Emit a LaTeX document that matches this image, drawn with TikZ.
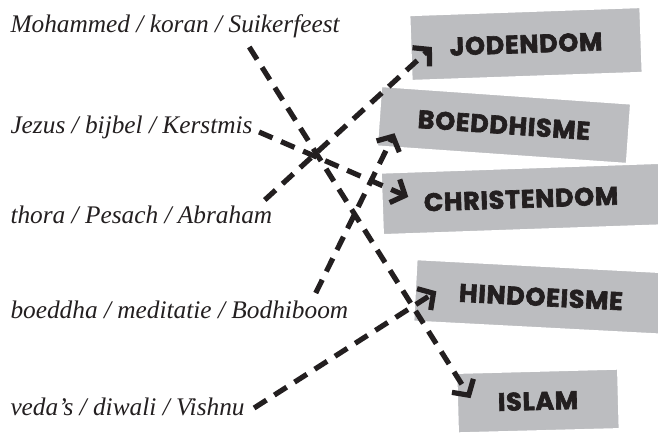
\documentclass[tikz,border=0pt]{standalone}
\usepackage{fontspec}
\setmainfont{Liberation Serif}
\newfontfamily\boxfont{Poppins}[LetterSpace=3.0,BoldFeatures={FakeBold=2.5}]
\usetikzlibrary{arrows.meta}

\definecolor{boxgray}{RGB}{188,189,192}
\definecolor{inkblack}{RGB}{35,31,32}

\tikzset{every picture/.style={line width=0.75pt}}
\tikzset{
  term/.style={anchor=base west,inner sep=0pt,font=\fontsize{19}{22}\selectfont\itshape,text=inkblack},
  relbox/.style={fill=boxgray,draw=white,line width=1.2pt,inner sep=0pt,font=\boxfont\bfseries\fontsize{19}{22}\selectfont,text=inkblack},
  link/.style={draw=inkblack,line width=3.9pt,dash pattern=on 11pt off 7pt,-{Straight Barb[length=8.5pt,width=19pt]}}
}

\begin{document}
\begin{tikzpicture}[x=0.75pt,y=0.75pt,yscale=-1,xscale=1]
\path[use as bounding box] (0,0) rectangle (658,433);

%Shape: Boxes
\node[relbox,rotate=2,minimum width=173pt,minimum height=49pt] (jod) at (526,44) {JODENDOM};
\node[relbox,rotate=-4,minimum width=187.5pt,minimum height=45pt] (boe) at (504,125) {BOEDDHISME};
\node[relbox,rotate=2,minimum width=208.5pt,minimum height=46.5pt] (chr) at (521,199) {CHRISTENDOM};
\node[relbox,rotate=-3,minimum width=189pt,minimum height=46.5pt] (hin) at (541,297) {HINDOEISME};
\node[relbox,rotate=1.5,minimum width=121pt,minimum height=45pt] (isl) at (538,401) {ISLAM};

% Text Node
\node[term] (moh) at (10,32) {Mohammed / koran / Suikerfeest};
% Text Node
\node[term] (jez) at (10,133) {Jezus / bijbel / Kerstmis};
% Text Node
\node[term] (tho) at (10,223) {thora / Pesach / Abraham};
% Text Node
\node[term] (bod) at (10,318) {boeddha / meditatie / Bodhiboom};
% Text Node
\node[term] (ved) at (10,415) {veda's / diwali / Vishnu};

%Straight Lines
\draw[link] ([shift={(-91,15)}]moh.base east) -- ([shift={(14,-5)}]isl.west);
\draw[link] ([shift={(6,-1)}]jez.base east) -- ([shift={(27,-7)}]chr.west);
\draw[link] ([shift={(-8,-23)}]tho.base east) -- ([shift={(22,-1)}]jod.west);
\draw[link] ([shift={(-33,-25)}]bod.base east) -- ([shift={(16,17)}]boe.west);
\draw[link] ([shift={(9,-7)}]ved.base east) -- ([shift={(22,1)}]hin.west);

\end{tikzpicture}
\end{document}
